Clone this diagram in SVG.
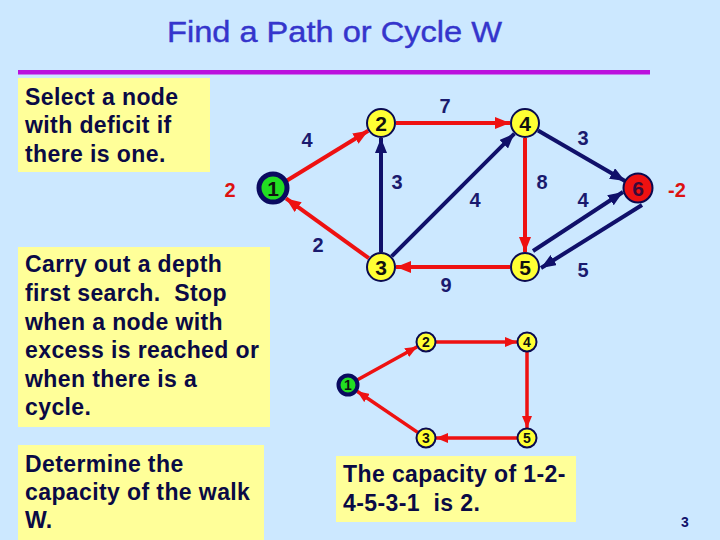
<svg xmlns="http://www.w3.org/2000/svg" width="720" height="540" viewBox="0 0 720 540">
<defs>
<style>
.box{fill:#FFFF99}
.bt{font-family:"Liberation Sans",Arial,sans-serif;font-weight:bold;font-size:23px;letter-spacing:0.4px;fill:#0A0A45;white-space:pre}
.lbl{font-family:"Liberation Sans",Arial,sans-serif;font-weight:bold;font-size:20px;fill:#1A1A6E;text-anchor:middle}
.rl{font-family:"Liberation Sans",Arial,sans-serif;font-weight:bold;font-size:20px;fill:#DD1111;text-anchor:middle}
.nt{font-family:"Liberation Sans",Arial,sans-serif;font-weight:bold;font-size:21px;fill:#111111;text-anchor:middle}
.ns{font-family:"Liberation Sans",Arial,sans-serif;font-weight:bold;font-size:14px;fill:#111111;text-anchor:middle}
.yn{fill:#FFFF33;stroke:#0A0A50;stroke-width:2}
.r{stroke:#EE1111;stroke-width:4;fill:none}
.b{stroke:#10106A;stroke-width:4;fill:none}
.rs{stroke:#EE1111;stroke-width:3.5;fill:none}
</style>
<marker id="ar" markerUnits="userSpaceOnUse" markerWidth="16" markerHeight="12" refX="15" refY="6" orient="auto"><path d="M0,0 L15,6 L0,12 z" fill="#EE1111"/></marker>
<marker id="ab" markerUnits="userSpaceOnUse" markerWidth="16" markerHeight="12" refX="15" refY="6" orient="auto"><path d="M0,0 L15,6 L0,12 z" fill="#10106A"/></marker>
<marker id="as" markerUnits="userSpaceOnUse" markerWidth="13" markerHeight="10" refX="12" refY="5" orient="auto"><path d="M0,0 L12,5 L0,10 z" fill="#EE1111"/></marker>
</defs>
<rect x="0" y="0" width="720" height="540" fill="#CCE8FF"/>
<text x="167" y="42" textLength="335" lengthAdjust="spacingAndGlyphs" font-family="Liberation Sans, Arial, sans-serif" font-size="29" fill="#3535CC" stroke="#3535CC" stroke-width="0.4">Find a Path or Cycle W</text>
<rect x="18" y="70" width="632" height="4.5" fill="#BB11DD"/>

<g id="box1"><rect class="box" x="18" y="78" width="192" height="94"/>
<text class="bt" x="25" y="105">Select a node</text>
<text class="bt" x="25" y="133">with deficit if</text>
<text class="bt" x="25" y="162">there is one.</text></g>

<g id="box2"><rect class="box" x="18" y="247" width="252" height="180"/>
<text class="bt" x="25" y="272">Carry out a depth</text>
<text class="bt" x="25" y="301">first search.  Stop</text>
<text class="bt" x="25" y="330">when a node with</text>
<text class="bt" x="25" y="358">excess is reached or</text>
<text class="bt" x="25" y="387">when there is a</text>
<text class="bt" x="25" y="415">cycle.</text></g>

<g id="box3"><rect class="box" x="18" y="445" width="246" height="95"/>
<text class="bt" x="25" y="472">Determine the</text>
<text class="bt" x="25" y="500">capacity of the walk</text>
<text class="bt" x="25" y="528">W.</text></g>

<g id="box4"><rect class="box" x="336" y="456" width="240" height="66"/>
<text class="bt" x="343" y="482">The capacity of 1-2-</text>
<text class="bt" x="343" y="511">4-5-3-1  is 2.</text></g>

<text x="685" y="527" text-anchor="middle" font-family="Liberation Sans, Arial, sans-serif" font-weight="bold" font-size="14" fill="#10106A">3</text>

<g id="connectors">
<line class="r" x1="286.6" y1="180.7" x2="368.2" y2="130.8" marker-end="url(#ar)"/>
<line class="r" x1="396" y1="123" x2="510" y2="123" marker-end="url(#ar)"/>
<line class="b" x1="381" y1="252" x2="381" y2="138" marker-end="url(#ab)"/>
<line class="b" x1="391.6" y1="256.4" x2="514.4" y2="133.6" marker-end="url(#ab)"/>
<line class="r" x1="525" y1="138" x2="525" y2="252" marker-end="url(#ar)"/>
<line class="r" x1="510" y1="267" x2="396" y2="267" marker-end="url(#ar)"/>
<line class="r" x1="368.8" y1="258.2" x2="286" y2="198.4" marker-end="url(#ar)"/>
<line class="b" x1="538" y1="130.5" x2="625" y2="181" marker-end="url(#ab)"/>
<line class="b" x1="533" y1="251" x2="623" y2="192" marker-end="url(#ab)"/>
<line class="b" x1="642" y1="205" x2="541" y2="268" marker-end="url(#ab)"/>
<line class="rs" x1="357.6" y1="379.7" x2="417.2" y2="346.8" marker-end="url(#as)"/>
<line class="rs" x1="436" y1="342" x2="517" y2="342" marker-end="url(#as)"/>
<line class="rs" x1="527" y1="352" x2="527" y2="428" marker-end="url(#as)"/>
<line class="rs" x1="517" y1="438" x2="436" y2="438" marker-end="url(#as)"/>
<line class="rs" x1="417.7" y1="432.4" x2="357.1" y2="391.2" marker-end="url(#as)"/>
</g>

<g id="edge-labels">
<text class="lbl" x="307" y="147">4</text>
<text class="lbl" x="445" y="113">7</text>
<text class="lbl" x="397" y="189">3</text>
<text class="lbl" x="475" y="207">4</text>
<text class="lbl" x="542" y="189">8</text>
<text class="lbl" x="318" y="252">2</text>
<text class="lbl" x="446" y="292">9</text>
<text class="lbl" x="583" y="145">3</text>
<text class="lbl" x="583" y="207">4</text>
<text class="lbl" x="583" y="277">5</text>
</g>

<g id="n1"><circle cx="273" cy="188" r="14" fill="#22DD22" stroke="#0A0A60" stroke-width="5"/><text class="nt" x="273" y="196">1</text></g>
<text class="rl" x="230" y="197">2</text>
<g id="n2"><circle class="yn" cx="381" cy="123" r="14"/><text class="nt" x="381" y="131">2</text></g>
<g id="n4"><circle class="yn" cx="525" cy="123" r="14"/><text class="nt" x="525" y="131">4</text></g>
<g id="n3"><circle class="yn" cx="381" cy="267" r="14"/><text class="nt" x="381" y="275">3</text></g>
<g id="n5"><circle class="yn" cx="525" cy="267" r="14"/><text class="nt" x="525" y="275">5</text></g>
<g id="n6"><circle cx="638" cy="188" r="14.5" fill="#EE1111" stroke="#0A0A50" stroke-width="2"/><text class="nt" x="638" y="196" style="fill:#3A0A3A">6</text></g>
<text class="rl" x="677" y="197">-2</text>

<g id="s1"><circle cx="348" cy="385" r="9.5" fill="#22DD22" stroke="#0A0A60" stroke-width="4"/><text class="ns" x="348" y="390">1</text></g>
<g id="s2"><circle class="yn" cx="426" cy="342" r="9.5"/><text class="ns" x="426" y="347">2</text></g>
<g id="s4"><circle class="yn" cx="527" cy="342" r="9.5"/><text class="ns" x="527" y="347">4</text></g>
<g id="s3"><circle class="yn" cx="426" cy="438" r="9.5"/><text class="ns" x="426" y="443">3</text></g>
<g id="s5"><circle class="yn" cx="527" cy="438" r="9.5"/><text class="ns" x="527" y="443">5</text></g>
</svg>
